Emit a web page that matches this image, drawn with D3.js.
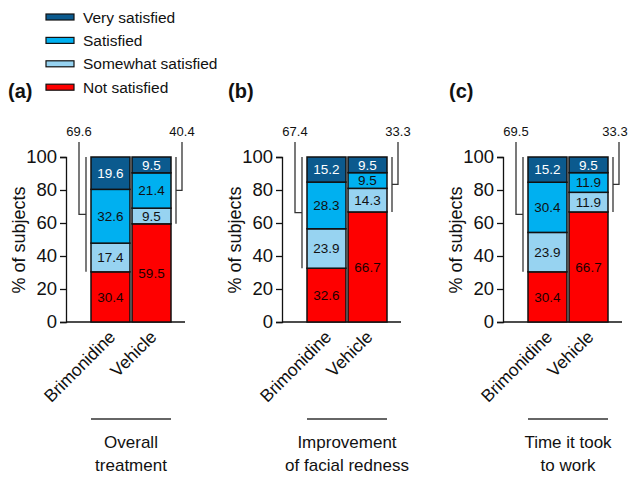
<!DOCTYPE html>
<html>
<head>
<meta charset="utf-8">
<script src="https://cdn.jsdelivr.net/npm/d3@7"></script>
<style>
  body { margin: 0; background: #fff; }
  text { font-family: "Liberation Sans", Arial, Helvetica, sans-serif; fill: #111; }
</style>
</head>
<body>
<div id="viz"></div>
<script>
// satisfaction levels, bottom to top
var levels = ["Not satisfied", "Somewhat satisfied", "Satisfied", "Very satisfied"];
var levelColors = ["#fe0000", "#97d3f1", "#00b0f0", "#0b5a8e"];
var labelColors = ["#1a0000", "#111", "#111", "#fff"];
var groups = ["Brimonidine", "Vehicle"];
var panelTags = ["(a)", "(b)", "(c)"];
var panelTitles = [["Overall", "treatment"], ["Improvement", "of facial redness"], ["Time it took", "to work"]];

// values per panel: [Brimonidine, Vehicle], each bottom->top
var overallVals = [[30.4, 17.4, 32.6, 19.6], [59.5, 9.5, 21.4, 9.5]];
var rednessVals = [[32.6, 23.9, 28.3, 15.2], [66.7, 14.3, 9.5, 9.5]];
var timeVals = [[30.4, 23.9, 30.4, 15.2], [66.7, 11.9, 11.9, 9.5]];
var panelVals = [overallVals, rednessVals, timeVals];

// sum of satisfied categories shown above brackets
var bracketVals = [["69.6", "40.4"], ["67.4", "33.3"], ["69.5", "33.3"]];
var yTicks = [0, 20, 40, 60, 80, 100];

var W = 629, H = 477;
var svg = d3.select("#viz").append("svg")
  .attr("width", W)
  .attr("height", H);

var y = d3.scaleLinear().domain([0, 100]).range([322, 157]);
var panelX = [66, 282, 503];

// legend
var legend = svg.append("g").attr("class", "legend");
var legendRows = [3, 2, 1, 0];
legendRows.forEach(function(li, i) {
  var cy = 17 + i * 23.4;
  legend.append("rect")
    .attr("x", 46).attr("y", cy - 3)
    .attr("width", 28).attr("height", 6)
    .attr("fill", levelColors[li])
    .attr("stroke", "#111").attr("stroke-width", 1.2);
  legend.append("text")
    .attr("x", 83).attr("y", cy + 5.5)
    .attr("font-size", 15.5)
    .text(levels[li]);
});

panelVals.forEach(function(vals, p) {
  var x0 = panelX[p];
  var g = svg.append("g").attr("class", "panel");

  var x = d3.scaleBand().domain(groups).range([x0 + 25, x0 + 105]).paddingInner(0.05);

  g.append("text")
    .attr("x", x0 - 58 + (p == 0 ? 0 : 4)).attr("y", 98)
    .attr("font-size", 20).attr("font-weight", "bold")
    .text(panelTags[p]);

  // y axis
  var yAxis = g.append("g")
    .attr("transform", "translate(" + x0 + ",0)")
    .call(d3.axisLeft(y).tickValues(yTicks).tickSize(6).tickPadding(3));
  yAxis.select(".domain").attr("stroke", "#111").attr("stroke-width", 1.3);
  yAxis.selectAll(".tick line").attr("stroke", "#111").attr("stroke-width", 1.3);
  yAxis.selectAll(".tick text")
    .attr("font-size", 18.5)
    .attr("font-family", "Liberation Sans, Arial, sans-serif")
    .attr("fill", "#111");

  g.append("text")
    .attr("transform", "translate(" + (x0 - 47) + "," + 240 + ") rotate(-90)")
    .attr("text-anchor", "middle")
    .attr("dy", "0.35em")
    .attr("font-size", 18)
    .text("% of subjects");

  // baseline
  g.append("line")
    .attr("x1", x0).attr("x2", x0 + 119)
    .attr("y1", y(0)).attr("y2", y(0))
    .attr("stroke", "#111").attr("stroke-width", 1.3);

  // stacked bars
  groups.forEach(function(grp, gi) {
    var acc = 0;
    vals[gi].forEach(function(v, li) {
      var lo = acc, hi = acc + v;
      acc = hi;
      if (li == 3) hi = 100;
      g.append("rect")
        .attr("x", x(grp)).attr("width", x.bandwidth())
        .attr("y", y(hi)).attr("height", y(lo) - y(hi))
        .attr("fill", levelColors[li])
        .attr("stroke", "#111").attr("stroke-width", 1.5);
      g.append("text")
        .attr("x", x(grp) + x.bandwidth() / 2)
        .attr("y", (y(lo) + y(hi)) / 2)
        .attr("dy", "0.36em")
        .attr("text-anchor", "middle")
        .attr("font-size", 13.5)
        .style("fill", labelColors[li])
        .text(v.toFixed(1));
    });

    g.append("text")
      .attr("transform", "translate(" + (x(grp) + x.bandwidth() / 2 + 6) + ",338) rotate(-45)")
      .attr("text-anchor", "end")
      .attr("font-size", 17.5)
      .text(grp);
  });

  // brackets
  var sides = [
    { v: x0 + 20, l: x0 + 13, bottom: vals[0][0] },
    { v: x0 + 110, l: x0 + 116, bottom: vals[1][0] }
  ];
  sides.forEach(function(s, si) {
    var mid = (s.bottom + 100) / 2;
    g.append("line")
      .attr("x1", s.v).attr("x2", s.v)
      .attr("y1", y(100)).attr("y2", y(s.bottom))
      .attr("stroke", "#333").attr("stroke-width", 1.3);
    g.append("path")
      .attr("d", "M" + s.l + ",142V" + y(mid) + "H" + s.v)
      .attr("fill", "none")
      .attr("stroke", "#333").attr("stroke-width", 1.3);
    g.append("text")
      .attr("x", Math.min(s.l, W - 14)).attr("y", 136)
      .attr("text-anchor", "middle")
      .attr("font-size", 13)
      .text(bracketVals[p][si]);
  });

  // bottom label
  g.append("line")
    .attr("x1", x0 + 25).attr("x2", x0 + 105)
    .attr("y1", 419).attr("y2", 419)
    .attr("stroke", "#333").attr("stroke-width", 1.3);
  panelTitles[p].forEach(function(t, ti) {
    g.append("text")
      .attr("x", x0 + 65).attr("y", 448 + ti * 23)
      .attr("text-anchor", "middle")
      .attr("font-size", 17)
      .text(t);
  });
});
</script>
</body>
</html>
